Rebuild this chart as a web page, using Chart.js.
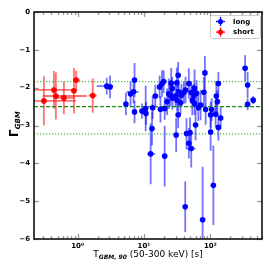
<!DOCTYPE html>
<html>
<head>
<meta charset="utf-8">
<script src="https://cdn.jsdelivr.net/npm/chart.js@4/dist/chart.umd.min.js"></script>
<style>
  html, body { margin: 0; padding: 0; background: #fff; }
  canvas { display: block; }
</style>
</head>
<body>
<canvas id="c" width="269" height="269"></canvas>
<script>
// long bursts: T90 [s], photon index, symmetric index error, T90 errors (minus / plus)
const longT = [2.75, 3.08, 5.34, 6.27, 6.96, 7.2, 7.2, 9.33, 10.6, 10.7, 13.2, 13.5, 12.6, 14.8, 17.2, 17.7, 18.7, 19.8,
  20.5, 20.5, 22.3, 23.6, 25.0, 25.7, 26.8, 26.6, 29.8, 31.2, 31.5, 32.7, 32.7, 33.3, 30.5, 35.5, 36.7, 39.8, 42.3, 43.7,
  49.4, 47.4, 51.5, 41.8, 47.4, 51.5, 53.4, 56.4, 57.8, 57.8, 59.9, 62.0, 65.8, 71.3, 76.4, 80.0, 82.8, 84.9, 101, 101,
  104.7, 111, 120, 123, 127.6, 132, 132, 143, 334, 364, 364, 442];
const longGamma = [-1.96, -1.98, -2.43, -2.17, -2.11, -1.80, -2.64, -2.62, -2.55, -2.68, -3.08, -2.53, -3.75, -2.22, -1.98,
  -2.57, -1.89, -1.84, -2.55, -3.81, -2.37, -2.16, -2.20, -1.88, -2.28, -2.02, -2.22, -1.87, -2.33, -1.67, -2.72, -2.11,
  -3.25, -2.40, -2.20, -2.13, -2.06, -3.21, -3.19, -3.47, -3.61, -5.15, -1.89, -2.13, -2.33, -2.20, -2.02, -2.42, -2.99,
  -2.15, -2.53, -2.46, -5.49, -2.12, -1.61, -2.58, -3.17, -2.72, -2.58, -4.58, -2.70, -2.22, -2.37, -1.89, -3.05, -2.80,
  -1.49, -1.93, -2.44, -2.33];
const longGammaErr = [0.22, 0.3, 0.3, 0.35, 0.3, 0.45, 0.3, 0.2, 0.6, 0.3, 0.45, 0.3, 0.8, 0.3, 0.3, 0.35, 0.35, 0.3,
  0.3, 0.8, 0.35, 0.4, 0.3, 0.4, 0.3, 0.3, 0.3, 0.4, 0.3, 0.35, 0.35, 0.3, 0.45, 0.3, 0.3, 0.3, 0.35, 0.4, 0.4, 0.4,
  0.5, 0.67, 0.4, 0.3, 0.4, 0.3, 0.5, 0.3, 0.4, 0.35, 0.35, 0.4, 1.4, 0.4, 0.45, 0.4, 0.5, 0.35, 0.3, 1.05, 0.35, 0.4,
  0.3, 0.3, 0.35, 0.3, 0.35, 0.35, 0.15, 0.1];
const longTMinus = [0.81, 0, 0, 0, 1.46, 0, 0, 0, 0, 0, 0, 0, 1.5, 0, 0, 0, 0, 0, 0, 0, 0, 0, 0, 0, 0, 0, 3, 0, 0, 0, 0,
  0, 0, 0, 0, 4, 0, 0, 0, 0, 8.5, 0, 0, 0, 0, 0, 0, 0, 0, 0, 0, 0, 0, 0, 0, 0, 0, 0, 0, 0, 0, 0, 0, 0, 0, 0, 0, 0, 0, 25];
const longTPlus = [0.68, 0, 0, 0, 1.34, 0, 0, 0, 0, 0, 0, 0, 2.2, 0, 0, 0, 0, 0, 0, 0, 0, 0, 0, 0, 0, 0, 4, 0, 0, 0, 0,
  0, 0, 0, 0, 5, 0, 0, 0, 0, 8.5, 0, 0, 0, 0, 0, 0, 0, 0, 0, 0, 0, 0, 0, 0, 0, 0, 0, 0, 0, 0, 0, 0, 0, 0, 0, 0, 0, 0, 25];

// short bursts
const shortT = [0.31, 0.44, 0.47, 0.62, 0.88, 0.95, 1.69];
const shortGamma = [-2.35, -2.06, -2.22, -2.27, -2.08, -1.80, -2.21];
const shortGammaErr = [0.65, 0.5, 0.62, 0.43, 0.6, 0.25, 0.45];
const shortTMinus = [0.09, 0.22, 0.17, 0.17, 0.08, 0.1, 0.24];
const shortTPlus = [0.63, 0.44, 0.9, 0.28, 0.09, 0.15, 0.26];

// mean index and 1-sigma band
const meanGamma = -2.5;
const bandGamma = [-1.84, -3.22];

const xTicks = [1, 10, 100];
const xTickLabels = ['10\u2070', '10\u00b9', '10\u00b2'];
const yTicks = [0, -1, -2, -3, -4, -5, -6];

const toPoints = (t, g, ge, tm, tp) => t.map((v, i) => ({ x: v, y: g[i], ye: ge[i], xm: tm[i], xp: tp[i] }));

const errorBars = {
  id: 'errorBars',
  beforeDatasetsDraw(chart) {
    const { ctx, chartArea: a, scales: { x, y } } = chart;
    ctx.save();
    ctx.beginPath();
    ctx.rect(a.left, a.top, a.right - a.left, a.bottom - a.top);
    ctx.clip();
    chart.data.datasets.forEach(ds => {
      ctx.strokeStyle = ds.errColor;
      ctx.lineWidth = 1.8;
      ds.data.forEach(p => {
        const px = x.getPixelForValue(p.x), py = y.getPixelForValue(p.y);
        ctx.beginPath();
        ctx.moveTo(px, y.getPixelForValue(p.y + p.ye));
        ctx.lineTo(px, y.getPixelForValue(p.y - p.ye));
        if (p.xm || p.xp) {
          ctx.moveTo(x.getPixelForValue(p.x - p.xm), py);
          ctx.lineTo(x.getPixelForValue(p.x + p.xp), py);
        }
        ctx.stroke();
      });
    });
    // mean line and band
    ctx.lineWidth = 1.2;
    ctx.strokeStyle = '#1a8a1a';
    ctx.setLineDash([4, 2]);
    let py = y.getPixelForValue(meanGamma);
    ctx.beginPath(); ctx.moveTo(a.left, py); ctx.lineTo(a.right, py); ctx.stroke();
    ctx.strokeStyle = '#4cb84c';
    ctx.setLineDash([1.2, 1.8]);
    bandGamma.forEach(v => {
      py = y.getPixelForValue(v);
      ctx.beginPath(); ctx.moveTo(a.left, py); ctx.lineTo(a.right, py); ctx.stroke();
    });
    ctx.restore();
  }
};

const frame = {
  id: 'frame',
  afterDraw(chart) {
    const { ctx, chartArea: a, scales: { x, y } } = chart;
    const line = (x1, y1, x2, y2) => { ctx.beginPath(); ctx.moveTo(x1, y1); ctx.lineTo(x2, y2); ctx.stroke(); };
    ctx.save();
    ctx.strokeStyle = '#999';
    ctx.lineWidth = 1.3;
    for (let e = -1; e <= 3; e++) {
      for (let m = 1; m < 10; m++) {
        const v = m * Math.pow(10, e);
        if (v < x.min || v > x.max) continue;
        const px = Math.round(x.getPixelForValue(v)) + 0.5;
        const len = m === 1 ? 5 : 3;
        line(px, a.bottom, px, a.bottom - len);
        line(px, a.top, px, a.top + len);
      }
    }
    yTicks.forEach(v => {
      const py = Math.round(y.getPixelForValue(v)) + 0.5;
      line(a.left, py, a.left + 5, py);
      line(a.right, py, a.right - 5, py);
    });
    ctx.strokeStyle = '#111';
    ctx.lineWidth = 1.6;
    ctx.strokeRect(a.left, a.top, a.right - a.left, a.bottom - a.top);

    // x axis title
    ctx.fillStyle = '#000';
    ctx.textBaseline = 'alphabetic';
    ctx.textAlign = 'left';
    const main = '9px "DejaVu Sans"', sub = 'italic bold 6px "DejaVu Sans"';
    ctx.font = main; const wT = ctx.measureText('T').width;
    const rest = ' (50-300 keV) [s]'; const wR = ctx.measureText(rest).width;
    ctx.font = sub; const wS = ctx.measureText('GBM, 90').width;
    let sx = (a.left + a.right) / 2 - (wT + wS + wR) / 2;
    const base = 257;
    ctx.font = main; ctx.fillText('T', sx, base);
    ctx.font = sub; ctx.fillText('GBM, 90', sx + wT, base + 1.5);
    ctx.font = main; ctx.fillText(rest, sx + wT + wS, base);

    // y axis title
    ctx.save();
    ctx.translate(18, 137);
    ctx.rotate(-Math.PI / 2);
    ctx.font = 'bold 12px "DejaVu Sans"';
    const wG = ctx.measureText('\u0393').width;
    ctx.fillText('\u0393', 0, 0);
    ctx.font = 'italic bold 7px "DejaVu Sans"';
    ctx.fillText('GBM', wG, 2);
    ctx.restore();

    // legend
    const lx = 210, ly = 15, lw = 50, lh = 23;
    ctx.fillStyle = 'rgba(255,255,255,0.9)';
    ctx.strokeStyle = '#ccc';
    ctx.lineWidth = 1;
    ctx.beginPath();
    ctx.roundRect(lx + 0.5, ly + 0.5, lw, lh, 2);
    ctx.fill(); ctx.stroke();
    chart.data.datasets.forEach((ds, i) => {
      const cy = ly + 6.5 + i * 10.6, cx = lx + 10.5;
      ctx.strokeStyle = ds.borderColor;
      ctx.lineWidth = 1.3;
      line(cx, cy - 4.5, cx, cy + 4.5);
      line(cx - 4.5, cy, cx + 4.5, cy);
      ctx.fillStyle = ds.backgroundColor;
      ctx.beginPath(); ctx.arc(cx, cy, 2.6, 0, Math.PI * 2); ctx.fill();
      ctx.fillStyle = '#000';
      ctx.font = 'bold 7px "DejaVu Sans"';
      ctx.textBaseline = 'middle';
      ctx.fillText(ds.label, lx + 23, cy + 0.5);
    });
    ctx.restore();
  }
};

const tickFont = { family: 'DejaVu Sans', size: 7, weight: 'bold' };

new Chart(document.getElementById('c'), {
  type: 'scatter',
  data: {
    datasets: [
      {
        label: 'long',
        data: toPoints(longT, longGamma, longGammaErr, longTMinus, longTPlus),
        backgroundColor: '#0000ff', borderColor: '#0000ff',
        pointRadius: 2.8, pointBorderWidth: 0,
        errColor: 'rgba(0,0,255,0.55)'
      },
      {
        label: 'short',
        data: toPoints(shortT, shortGamma, shortGammaErr, shortTMinus, shortTPlus),
        backgroundColor: '#ff0000', borderColor: '#ff0000',
        pointRadius: 2.8, pointBorderWidth: 0,
        errColor: 'rgba(255,0,0,0.55)'
      }
    ]
  },
  options: {
    responsive: false,
    animation: false,
    devicePixelRatio: 1,
    layout: { padding: { top: 12, right: 7, left: 0, bottom: 0 } },
    plugins: { legend: { display: false }, tooltip: { enabled: false } },
    scales: {
      x: {
        type: 'logarithmic', min: 0.22, max: 600,
        grid: { display: false, drawTicks: false }, border: { display: false },
        afterBuildTicks: s => { s.ticks = xTicks.map(v => ({ value: v })); },
        afterFit: s => { s.height = 30; },
        ticks: {
          autoSkip: false, maxRotation: 0, padding: 3, color: '#000', font: tickFont,
          callback: v => xTickLabels[xTicks.indexOf(v)] ?? ''
        }
      },
      y: {
        min: -6, max: 0,
        grid: { display: false, drawTicks: false }, border: { display: false },
        afterBuildTicks: s => { s.ticks = yTicks.map(v => ({ value: v })); },
        afterFit: s => { s.width = 34; },
        ticks: {
          padding: 4, color: '#000', font: tickFont,
          callback: v => v === 0 ? '0' : '\u2212' + Math.abs(v)
        }
      }
    }
  },
  plugins: [errorBars, frame]
});
</script>
</body>
</html>
